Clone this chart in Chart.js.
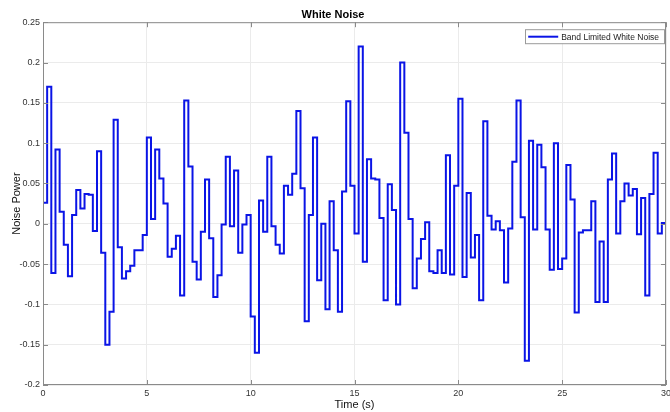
<!DOCTYPE html>
<html lang="en">
<head>
<meta charset="UTF-8">
<title>White Noise</title>
<script src="https://cdn.jsdelivr.net/npm/chart.js"></script>
<style>
    html, body { margin: 0; padding: 0; background: #fff; }
</style>
</head>
<body>
<canvas id="noiseChart" width="670" height="412"></canvas>
<script>
    // samples of the band limited white noise block, held for one sample time each
    const sampleTime = 0.2;
    const noise = [
        0.026, 0.170, -0.061, 0.092, 0.015, -0.026, -0.065, 0.011, 0.042, 0.019,
        0.037, 0.036, -0.009, 0.090, -0.036, -0.150, -0.109, 0.129, -0.029, -0.068,
        -0.059, -0.052, -0.033, -0.033, -0.014, 0.107, 0.006, 0.092, 0.056, 0.025,
        -0.041, -0.031, -0.015, -0.089, 0.153, 0.071, -0.047, -0.069, -0.010, 0.055,
        -0.018, -0.091, -0.064, -0.001, 0.083, -0.003, 0.066, -0.036, -0.001, 0.011,
        -0.115, -0.160, 0.029, -0.010, 0.083, -0.003, -0.026, -0.037, 0.047, 0.036,
        0.062, 0.140, 0.044, -0.121, 0.011, 0.107, -0.070, 0.000, -0.106, 0.028,
        -0.033, -0.109, 0.040, 0.152, 0.047, -0.012, 0.220, -0.047, 0.080, 0.056,
        0.055, 0.007, -0.095, 0.049, 0.017, -0.100, 0.200, 0.113, 0.006, -0.080,
        -0.043, -0.019, 0.002, -0.059, -0.061, -0.033, -0.061, 0.085, -0.063, 0.047,
        0.155, -0.066, 0.038, -0.042, -0.014, -0.095, 0.127, 0.010, -0.007, 0.003,
        -0.008, -0.073, -0.006, 0.077, 0.153, 0.008, -0.170, 0.103, -0.007, 0.098,
        0.070, -0.007, -0.057, 0.100, -0.056, -0.043, 0.073, 0.030, -0.110, -0.011,
        -0.008, -0.008, 0.028, -0.097, -0.022, -0.097, 0.055, 0.087, -0.012, 0.028,
        0.050, 0.035, 0.043, -0.013, 0.032, -0.089, 0.037, 0.088, -0.012, 0.001,
        0.138
    ];
    const xTicks = [0, 5, 10, 15, 20, 25, 30];
    const xTickLabels = ['0', '5', '10', '15', '20', '25', '30'];
    const yTicks = [-0.2, -0.15, -0.1, -0.05, 0, 0.05, 0.1, 0.15, 0.2, 0.25];
    const yTickLabels = ['-0.2', '-0.15', '-0.1', '-0.05', '0', '0.05', '0.1', '0.15', '0.2', '0.25'];

    const FONT = 'Liberation Sans, Arial, Helvetica, sans-serif';
    const AXIS_COLOR = '#8a8a8a';
    const LINE_COLOR = 'rgb(10, 20, 230)';

    const points = noise.map((v, i) => ({ x: Math.round(i * sampleTime * 10) / 10, y: v }));

    // matlab style box round the axes with ticks pointing inwards
    const axesBox = {
        id: 'axesBox',
        afterDatasetsDraw(chart) {
            const { ctx, chartArea: a, scales } = chart;
            ctx.save();
            ctx.strokeStyle = AXIS_COLOR;
            ctx.lineWidth = 1;
            ctx.strokeRect(a.left + 0.5, a.top + 0.5, a.right - a.left - 1, a.bottom - a.top - 1);
            ctx.beginPath();
            xTicks.forEach(t => {
                const x = Math.round(scales.x.getPixelForValue(t)) + 0.5;
                ctx.moveTo(x, a.bottom); ctx.lineTo(x, a.bottom - 5);
                ctx.moveTo(x, a.top); ctx.lineTo(x, a.top + 5);
            });
            yTicks.forEach(t => {
                const y = Math.round(scales.y.getPixelForValue(t)) + 0.5;
                ctx.moveTo(a.left, y); ctx.lineTo(a.left + 5, y);
                ctx.moveTo(a.right, y); ctx.lineTo(a.right - 5, y);
            });
            ctx.stroke();
            ctx.restore();
        }
    };

    // legend box in the upper right corner inside the axes
    const insideLegend = {
        id: 'insideLegend',
        afterDraw(chart) {
            const { ctx, chartArea: a } = chart;
            const ds = chart.data.datasets[0];
            ctx.save();
            ctx.font = '8.5px ' + FONT;
            const tw = ctx.measureText(ds.label).width;
            const w = 3 + 30 + 3 + tw + 5;
            const h = 14;
            const right = a.right - 2;
            const left = right - w;
            const top = a.top + 7;
            ctx.fillStyle = '#fff';
            ctx.fillRect(left, top, w, h);
            ctx.strokeStyle = '#9a9a9a';
            ctx.lineWidth = 1;
            ctx.strokeRect(Math.round(left) + 0.5, top + 0.5, Math.round(w), h);
            ctx.strokeStyle = ds.borderColor;
            ctx.lineWidth = 2;
            ctx.beginPath();
            ctx.moveTo(left + 3, top + h / 2 + 0.5);
            ctx.lineTo(left + 33, top + h / 2 + 0.5);
            ctx.stroke();
            ctx.fillStyle = '#222';
            ctx.textBaseline = 'middle';
            ctx.fillText(ds.label, left + 36, top + h / 2 + 1);
            ctx.restore();
        }
    };

    new Chart(document.getElementById('noiseChart'), {
        type: 'line',
        data: {
            datasets: [{
                label: 'Band Limited White Noise',
                data: points,
                stepped: true,
                borderColor: LINE_COLOR,
                borderWidth: 2,
                pointRadius: 0,
                fill: false
            }]
        },
        options: {
            responsive: false,
            animation: false,
            layout: { padding: { top: 0, right: 4, bottom: 0, left: 0 } },
            plugins: {
                legend: { display: false },
                tooltip: { enabled: false },
                title: {
                    display: true,
                    text: 'White Noise',
                    color: '#000',
                    font: { family: FONT, size: 11, weight: 'bold' },
                    padding: { top: 8, bottom: 1 }
                }
            },
            scales: {
                x: {
                    type: 'linear',
                    min: 0,
                    max: 30,
                    afterBuildTicks: s => { s.ticks = xTicks.map(v => ({ value: v })); },
                    afterFit: s => { s.height = 27; s.paddingLeft = 0; s.paddingRight = 0; },
                    ticks: {
                        color: '#333',
                        font: { family: FONT, size: 9 },
                        padding: 3,
                        maxRotation: 0,
                        callback: (v, i) => xTickLabels[i]
                    },
                    grid: { color: '#ebebeb', drawTicks: false },
                    border: { display: false },
                    title: {
                        display: true,
                        text: 'Time (s)',
                        color: '#111',
                        font: { family: FONT, size: 11 },
                        padding: { top: 0, bottom: 0 }
                    }
                },
                y: {
                    type: 'linear',
                    min: -0.2,
                    max: 0.25,
                    afterBuildTicks: s => { s.ticks = yTicks.map(v => ({ value: v })); },
                    afterFit: s => { s.width = 43; },
                    ticks: {
                        color: '#333',
                        font: { family: FONT, size: 9 },
                        padding: 3,
                        callback: (v, i) => yTickLabels[i]
                    },
                    grid: { color: '#ebebeb', drawTicks: false },
                    border: { display: false },
                    title: {
                        display: true,
                        text: 'Noise Power',
                        color: '#111',
                        font: { family: FONT, size: 11 },
                        padding: { top: 10, bottom: 2 }
                    }
                }
            }
        },
        plugins: [axesBox, insideLegend]
    });
</script>
</body>
</html>
